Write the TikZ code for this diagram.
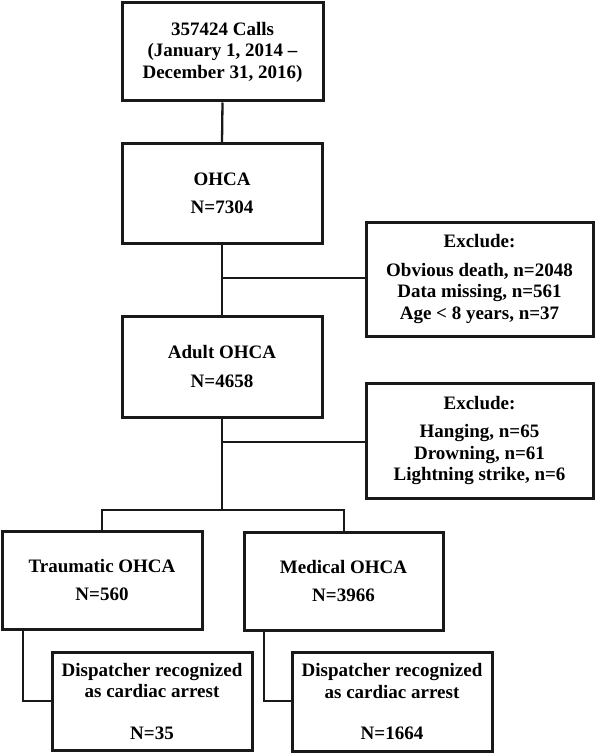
\documentclass[tikz,border=0pt]{standalone}
\usepackage{fontspec}
\setmainfont{Liberation Serif}
\begin{document}
\begin{tikzpicture}[x=1pt,y=-1pt,
  box/.style={draw=black!90, line width=3pt, fill=white, align=center, inner sep=0pt,
    font=\bfseries\fontsize{19}{21.5}\selectfont},
  conn/.style={draw=black!90, line width=2.3pt}]
\useasboundingbox (0,0) rectangle (596,754);
\fill[white] (0,0) rectangle (596,754);
% boxes
\node[box, minimum width=201pt, minimum height=98pt] (calls) at (222.5,52) {357424 Calls\\(January 1, 2014 --\\December 31, 2016)};
\node[box, minimum width=200pt, minimum height=99pt] (ohca) at (222,193.5) {OHCA\\[7pt]N=7304};
\node[box, minimum width=200pt, minimum height=101pt] (adult) at (222,366.5) {Adult OHCA\\[7pt]N=4658};
\node[box, minimum width=227pt, minimum height=114pt] (ex1) at (479.5,279) {Exclude:\\[7pt]Obvious death, n=2048\\Data missing, n=561\\Age {\textless} 8 years, n=37};
\node[box, minimum width=227pt, minimum height=115pt] (ex2) at (479.5,440.5) {Exclude:\\[7pt]Hanging, n=65\\Drowning, n=61\\Lightning strike, n=6};
\node[box, minimum width=200pt, minimum height=98pt] (trauma) at (102,580) {Traumatic OHCA\\[7pt]N=560};
\node[box, minimum width=199pt, minimum height=98pt] (medical) at (343.5,581) {Medical OHCA\\[7pt]N=3966};
\node[box, minimum width=200pt, minimum height=98pt] (disp1) at (152,701) {Dispatcher recognized\\as cardiac arrest\\[20pt]N=35};
\node[box, minimum width=200pt, minimum height=99pt] (disp2) at (392,701.5) {Dispatcher recognized\\as cardiac arrest\\[20pt]N=1664};
% junction coordinates
\coordinate (j1) at (222,278);
\coordinate (j2) at (222,442);
\coordinate (j3) at (222,510);
\coordinate (jt) at (102,510);
\coordinate (jm) at (344,510);
\coordinate (tdown) at (23,701);
\coordinate (mdown) at (264,701);
% connectors
\draw[conn] (calls.south) -- (ohca.north);
\draw[conn] (ohca.south) -- (adult.north);
\draw[conn] (j1) -- (ex1.west |- j1);
\draw[conn] (adult.south) -- (j3);
\draw[conn] (j2) -- (ex2.west |- j2);
\draw[conn, line cap=rect] (jt) -- (jm);
\draw[conn] (jt) -- (trauma.north -| jt);
\draw[conn] (jm) -- (medical.north -| jm);
\draw[conn, line join=miter] (trauma.south -| tdown) -- (tdown) -- (disp1.west |- tdown);
\draw[conn, line join=miter] (medical.south -| mdown) -- (mdown) -- (disp2.west |- mdown);
\end{tikzpicture}
\end{document}
